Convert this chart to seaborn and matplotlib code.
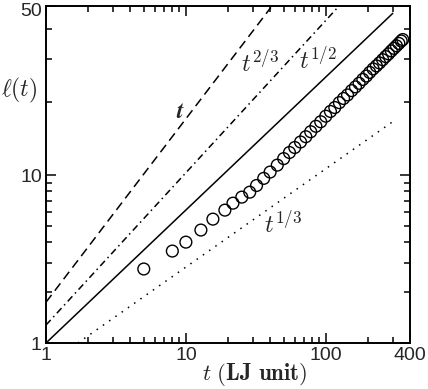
import numpy as np
import pandas as pd
import matplotlib
matplotlib.use("Agg")
import matplotlib.pyplot as plt
import matplotlib.transforms as mtransforms
import seaborn as sns
from matplotlib.ticker import FixedLocator, FixedFormatter, NullFormatter

# domain length l(t)
t_sim = [5, 8, 10, 12.8, 15.6, 19, 21.7, 25.1, 28.6, 32, 36, 40, 45, 50, 55, 60, 66,
         72, 78, 85, 92, 100, 108, 116, 125, 134, 143, 153, 163, 173, 184, 195,
         206, 218, 230, 242, 255, 268, 281, 294, 307, 320, 333, 346, 355]
l_sim = [2.76, 3.53, 3.99, 4.71, 5.47, 6.19, 6.81, 7.40, 7.92, 8.68, 9.57, 10.3, 11.0,
         11.7, 12.4, 13.0, 13.7, 14.4, 15.1, 15.9, 16.6, 17.5, 18.3, 19.0, 19.9, 20.7,
         21.4, 22.3, 23.1, 23.9, 24.8, 25.6, 26.5, 27.4, 28.2, 29.0, 29.9, 30.8, 31.6,
         32.5, 33.3, 34.1, 34.9, 35.7, 36.2]

# guide lines (end points)
guide_names = ["t", "t2/3", "t1/2", "t1/3"]
guide_t = [[1, 40.5], [1, 121.8], [1, 301], [1.69, 296]]
guide_l = [[1.75, 49.1], [1.28, 49.1], [1, 46.4], [1, 16.5]]
guide_dash = [(6, 3.5), (4.5, 2.5, 1, 2.5), "", (1, 4)]

sns.set_style("ticks")
plt.rcParams["font.family"] = ["Liberation Sans", "DejaVu Sans"]
plt.rcParams["mathtext.fontset"] = "cm"

fig = plt.figure(figsize=(4.28, 3.89), dpi=100)
ax = fig.add_axes([46 / 428, 1 - 343 / 389, 364 / 428, 337.5 / 389])

for name, tt, ll, d in zip(guide_names, guide_t, guide_l, guide_dash):
    df = pd.DataFrame({"t": tt, "l": ll})
    sns.lineplot(data=df, x="t", y="l", color="black", lw=1.1, ax=ax)
    if d:
        ax.lines[-1].set_dashes(d)

sim = pd.DataFrame({"t": t_sim, "l": l_sim})
sns.scatterplot(data=sim, x="t", y="l", marker="o", s=72, facecolor="none",
                edgecolor="black", linewidth=1.0, ax=ax, zorder=3)

# y axis: the lower decade is squeezed in the original picture
r = 168 / 243


def fwd(y):
    y = np.clip(y, 1e-6, None)
    u = np.log10(y) - 1
    return np.where(u >= 0, u, u * r)


def inv(u):
    u = np.asarray(u, dtype=float)
    return np.where(u >= 0, 10 ** (u + 1), 10 ** (u / r + 1))


ax.set_xscale("log")
ax.set_yscale("function", functions=(fwd, inv))
ax.set_xlim(1, 400)
ax.set_ylim(1, 50)

ax.xaxis.set_major_locator(FixedLocator([1, 10, 100, 400]))
ax.xaxis.set_major_formatter(FixedFormatter(["1", "10", "100", "400"]))
ax.xaxis.set_minor_locator(FixedLocator([2, 3, 4, 5, 6, 7, 8, 9, 20, 30, 40, 50, 60, 70,
                                         80, 90, 200, 300]))
ax.xaxis.set_minor_formatter(NullFormatter())
ax.yaxis.set_major_locator(FixedLocator([1, 10, 50]))
ax.yaxis.set_major_formatter(FixedFormatter(["1", "10", "50"]))
ax.yaxis.set_minor_locator(FixedLocator([2, 3, 4, 5, 6, 7, 8, 9, 20, 30, 40]))
ax.yaxis.set_minor_formatter(NullFormatter())

ax.tick_params(which="both", direction="in", top=True, right=True, width=1.1,
               labelsize=14, color="black")
ax.tick_params(which="major", length=7, pad=3)
ax.tick_params(which="minor", length=4)
for s in ax.spines.values():
    s.set_linewidth(1.4)
    s.set_color("black")

# "50" sits a little below the top corner, as in the original
top_lab = ax.yaxis.get_major_ticks()[2].label1
top_lab.set_transform(top_lab.get_transform() +
                      mtransforms.ScaledTranslation(0, -3.5 / 100, fig.dpi_scale_trans))

ax.set_xlabel("")
ax.set_ylabel("")

ax.text(9.2, 18.2, r"$\boldsymbol{t}$", fontsize=17, ha="center", va="center")
ax.text(33.8, 28.9, r"$t^{2/3}$", fontsize=17.5, ha="center", va="center")
ax.text(87.7, 29.7, r"$t^{1/2}$", fontsize=17.5, ha="center", va="center")
ax.text(49.3, 5.04, r"$t^{1/3}$", fontsize=17.5, ha="center", va="center")

fig.text(19 / 428, 1 - 90 / 389, r"$\ell(t)$", fontsize=17, ha="center", va="center")
fig.text(255 / 428, 1 - 374 / 389, r"$t\ \mathbf{(LJ\ unit)}$", fontsize=16.5,
         ha="center", va="center")

fig.savefig("out.png", dpi=100)
